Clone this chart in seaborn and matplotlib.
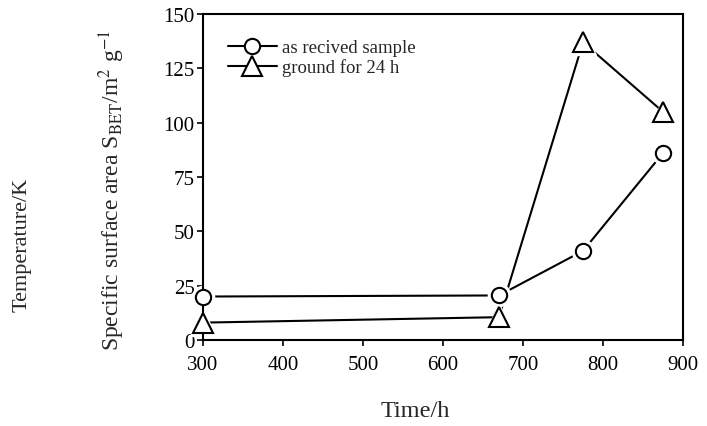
import matplotlib
matplotlib.use("Agg")
import matplotlib.pyplot as plt
import seaborn as sns
import pandas as pd
from matplotlib.lines import Line2D

time_h = [300, 670, 775, 875]
received = [20, 20.5, 41, 86]
ground = [8, 10.5, 137, 105]
series_names = ["as recived sample", "ground for 24 h"]
markers = ["o", "^"]
msizes = [11, 14]

sns.set_theme(style="ticks")
plt.rcParams['font.family'] = ['Liberation Serif', 'DejaVu Serif']
plt.rcParams['mathtext.fontset'] = 'stix'

df = pd.DataFrame({
    "Time": time_h * 2,
    "S": received + ground,
    "Series": [series_names[0]] * len(time_h) + [series_names[1]] * len(time_h),
})

W, H = 707, 427
fig = plt.figure(figsize=(W/100, H/100), dpi=100)
L, R, T, B = 203, 683, 15, 341
ax = fig.add_axes([L/W, 1 - B/H, (R-L)/W, (B-T)/H])

sns.lineplot(data=df, x="Time", y="S", units="Series", estimator=None,
             color="black", lw=1.5, ax=ax, legend=False, zorder=1)
for name, m, ms in zip(series_names, markers, msizes):
    sub = df[df.Series == name]
    ax.plot(sub.Time, sub.S, ls="none", marker=m, ms=ms + 5, mfc="white", mec="white",
            zorder=2, clip_on=False)
    ax.plot(sub.Time, sub.S, ls="none", marker=m, ms=ms, mfc="white", mec="black",
            mew=1.5, zorder=3, clip_on=False)

ax.set_xlim(300, 900)
ax.set_ylim(0, 150)
ax.set_xticks([300, 400, 500, 600, 700, 800, 900])
ax.set_yticks([0, 25, 50, 75, 100, 125, 150])
for s in ax.spines.values():
    s.set_visible(True)
    s.set_linewidth(1.5)
    s.set_color("black")
ax.tick_params(direction="out", length=4, width=1.2, labelsize=15, colors="black")
ax.tick_params(axis="x", pad=7)
ax.tick_params(axis="y", pad=2)
ax.set_xlabel("")
ax.set_ylabel(r"Specific surface area S$_{\rm BET}$/m$^2$ g$^{-1}$", fontsize=17)
ax.yaxis.set_label_coords((112 - L) / (R - L), 1 - (190 - T) / (B - T))
ax.yaxis.label.set_va("center")
fig.text(415/W, 1 - 412/H, "Time/h", fontsize=17.5, ha="center", va="center")
fig.text(22/W, 1 - 245/H, "Temperature/K", rotation=90, fontsize=16,
         ha="center", va="center")

handles = [Line2D([], [], color="black", lw=1.5, marker=m, ms=ms, mfc="white",
                  mec="black", mew=1.5) for m, ms in zip(markers, msizes)]
leg = ax.legend(handles, series_names, loc="upper left",
                bbox_to_anchor=((228 - L) / (R - L), 1 - (40 - T) / (B - T)),
                frameon=False, fontsize=13.5, handlelength=2.6, handletextpad=0.3,
                labelspacing=0.12, borderaxespad=0, borderpad=0)

fig.savefig("out.png", dpi=100)
